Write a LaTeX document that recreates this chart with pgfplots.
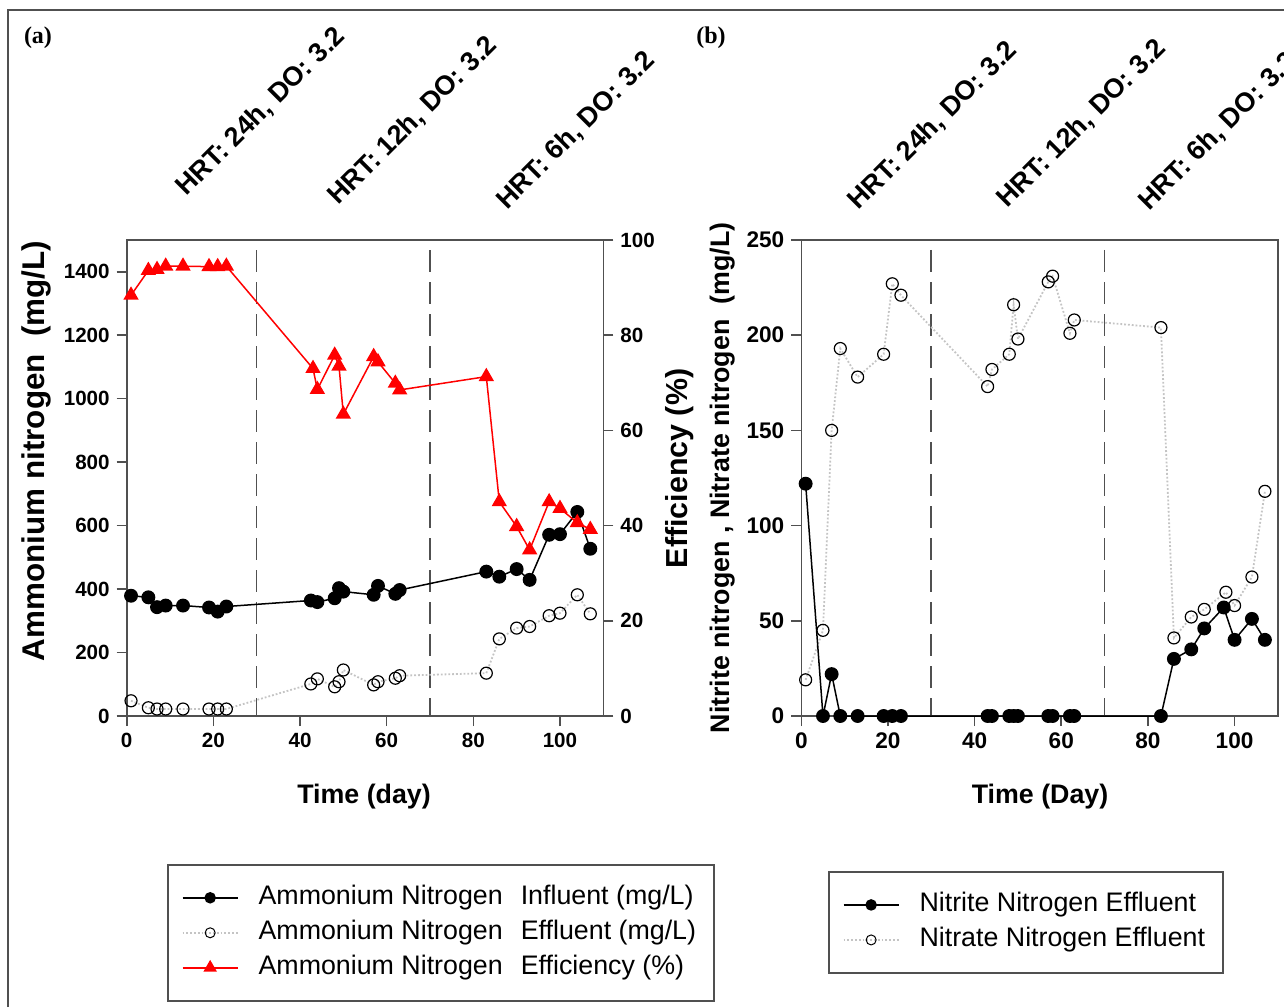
\documentclass[border=0pt]{standalone}
\usepackage{fontspec}
\setmainfont{Liberation Sans}
\newfontfamily\serifbf{Liberation Serif}
\usepackage{pgfplots}
\usepackage{pgfplotstable}
\pgfplotsset{compat=1.18}

\definecolor{axgray}{HTML}{505050}
\definecolor{dotgray}{HTML}{C4C4C4}

\pgfplotstableread{
day val
1 379
5 374
7 343
9 348
13 348
19 342
21 329
23 345
42.5 364
44 359
48 371
49 403
50 392
57 382
58 410
62 385
63 397
83 455
86 439
90 463
93 429
97.5 571
100 573
104 643
107 527
}\influent

\pgfplotstableread{
day val
1 48
5 26
7 22
9 22
13 22
19 22
21 22
23 22
42.5 101
44 117
48 92
49 108
50 145
57 98
58 108
62 119
63 127
83 135
86 243
90 277
93 282
97.5 316
100 324
104 382
107 322
}\effluent

\pgfplotstableread{
day val
1 88.4
5 93.6
7 93.8
9 94.5
13 94.5
19 94.4
21 94.4
23 94.5
43 73.0
44 68.6
48 75.8
49 73.5
50 63.4
57 75.5
58 74.4
62 69.9
63 68.5
83 71.3
86 45.0
90 39.8
93 34.9
97.5 45.0
100 43.6
104 40.6
107 39.2
}\efficiency

\pgfplotstableread{
day val
1 122
5 0
7 22
9 0
13 0
19 0
21 0
23 0
43 0
44 0
48 0
49 0
50 0
57 0
58 0
62 0
63 0
83 0
86 30
90 35
93 46
97.5 57
100 40
104 51
107 40
}\nitrite

\pgfplotstableread{
day val
1 19
5 45
7 150
9 193
13 178
19 190
21 227
23 221
43 173
44 182
48 190
49 216
50 198
57 228
58 231
62 201
63 208
83 204
86 41
90 52
93 56
98 65
100 58
104 73
107 118
}\nitrate

\pgfplotsset{
  myaxis/.style={
    scale only axis, width=238.3pt, height=238pt,
    xmin=0, xmax=110,
    axis line style={axgray, line width=0.8pt},
    tick style={axgray, line width=0.8pt},
    major tick length=5pt,
    tick align=outside,
    /pgf/number format/assume math mode=true,
    /pgf/number format/1000 sep={},
    ticklabel style={font=\fontsize{10.3}{12}\selectfont\bfseries, black},
    clip=false,
    legend image code/.code={\draw[mark repeat=2,mark phase=2,##1] plot coordinates {(0pt,0pt) (13.75pt,0pt) (27.5pt,0pt)};},
  },
  mylegend/.style={
    draw=axgray, line width=0.75pt, fill=white,
    font=\fontsize{13.4}{16}\selectfont,
    inner xsep=7pt, inner ysep=8pt, row sep=0.5pt,
    cells={anchor=west},
    nodes={text height=10pt, text depth=3pt},
    /tikz/every odd column/.append style={column sep=8pt},
  },
}

\begin{document}
\begin{tikzpicture}
\useasboundingbox (0,0) rectangle (642pt,503.5pt);
\clip (0,0) rectangle (642pt,503.5pt);
\draw[axgray, line width=1pt] (4pt,0) -- (4pt,498.5pt) -- (650pt,498.5pt);

\node[font=\serifbf\fontsize{12}{14}\selectfont\bfseries] at (19pt,484.5pt) {(a)};
\node[font=\serifbf\fontsize{12}{14}\selectfont\bfseries] at (355.5pt,484.5pt) {(b)};

\begin{scope}[every node/.style={rotate=45, font=\fontsize{13.5}{16}\selectfont\bfseries}]
\node at (130.5pt,447.5pt) {HRT: 24h, DO: 3.2};
\node at (206.5pt,443pt) {HRT: 12h, DO: 3.2};
\node at (288pt,438pt) {HRT: 6h, DO: 3.2};
\node at (466.5pt,440.5pt) {HRT: 24h, DO: 3.2};
\node at (541pt,441.5pt) {HRT: 12h, DO: 3.2};
\node at (609pt,437.5pt) {HRT: 6h, DO: 3.2};
\end{scope}

% ---------- panel (a), left axis ----------
\begin{axis}[myaxis,
  at={(63.35pt,145.5pt)}, anchor=south west,
  ymin=0, ymax=1500,
  ytick={0,200,...,1400}, xtick={0,20,...,100},
  xtick pos=left, ytick pos=left,
  xlabel={Time (day)},
  ylabel={Ammonium nitrogen\ \ (mg/L)},
  every axis x label/.style={at={(axis description cs:0.498,-0.170)}, anchor=center, font=\fontsize{13.4}{16}\selectfont\bfseries},
  every axis y label/.style={at={(axis description cs:-0.19,0.557)}, anchor=center, rotate=90, font=\fontsize{15.7}{18}\selectfont\bfseries},
  legend style={mylegend, at={(0.0846,-0.311)}, anchor=north west},
]
\addplot[forget plot, axgray, line width=0.8pt, dash pattern=on 11pt off 5pt, dash phase=11pt] coordinates {(30,1500) (30,0)};
\addplot[forget plot, axgray, line width=0.8pt, dash pattern=on 11pt off 5pt, dash phase=11pt] coordinates {(70,1500) (70,0)};
\addplot[forget plot, dotgray, line width=0.9pt, densely dotted, mark=o, mark size=3pt, mark options={black, solid, fill=white, line width=0.6pt}] table[x=day,y=val] {\effluent};
\addplot[forget plot, black, line width=0.75pt, mark=*, mark size=3.1pt] table[x=day,y=val] {\influent};
\addlegendimage{black, line width=0.75pt, mark=*, mark size=2.5pt}
\addlegendentry{Ammonium Nitrogen\hspace{9pt}Influent (mg/L)}
\addlegendimage{dotgray, line width=0.9pt, densely dotted, mark=o, mark size=2.5pt, mark options={black, solid, fill=white, line width=0.5pt}}
\addlegendentry{Ammonium Nitrogen\hspace{9pt}Effluent (mg/L)}
\addlegendimage{red, line width=0.75pt, mark=triangle*, mark size=3.2pt, mark options={red}}
\addlegendentry{Ammonium Nitrogen\hspace{9pt}Efficiency (\%)}
\end{axis}

% ---------- panel (a), right axis ----------
\begin{axis}[myaxis,
  at={(63.35pt,145.5pt)}, anchor=south west,
  ymin=0, ymax=100,
  ytick={0,20,...,100},
  axis y line*=right, axis x line=none,
  ytick pos=right,
  ylabel={Efficiency (\%)},
  every axis y label/.style={at={(axis description cs:1.16,0.52)}, anchor=center, rotate=90, font=\fontsize{15.2}{18}\selectfont\bfseries},
]
\addplot[red, line width=0.75pt, mark=triangle*, mark size=3.7pt, mark options={red}] table[x=day,y=val] {\efficiency};
\end{axis}

% ---------- panel (b) ----------
\begin{axis}[myaxis,
  at={(400.65pt,145.5pt)}, anchor=south west,
  ymin=0, ymax=250,
  ytick={0,50,...,250}, xtick={0,20,...,100},
  xtick pos=left, ytick pos=left,
  ticklabel style={font=\fontsize{11.3}{13}\selectfont\bfseries},
  xlabel={Time (Day)},
  ylabel={Nitrite nitrogen , Nitrate nitrogen\ \ (mg/L)},
  every axis x label/.style={at={(axis description cs:0.501,-0.170)}, anchor=center, font=\fontsize{13.4}{16}\selectfont\bfseries},
  every axis y label/.style={at={(axis description cs:-0.166,0.50)}, anchor=center, rotate=90, font=\fontsize{13.4}{16}\selectfont\bfseries},
  legend style={mylegend, at={(0.056,-0.326)}, anchor=north west},
]
\addplot[forget plot, axgray, line width=0.8pt, dash pattern=on 11pt off 5pt, dash phase=11pt] coordinates {(30,250) (30,0)};
\addplot[forget plot, axgray, line width=0.8pt, dash pattern=on 11pt off 5pt, dash phase=11pt] coordinates {(70,250) (70,0)};
\addplot[forget plot, dotgray, line width=0.9pt, densely dotted, mark=o, mark size=3pt, mark options={black, solid, fill=white, line width=0.6pt}] table[x=day,y=val] {\nitrate};
\addplot[forget plot, black, line width=0.75pt, mark=*, mark size=3.1pt] table[x=day,y=val] {\nitrite};
\addlegendimage{black, line width=0.75pt, mark=*, mark size=2.5pt}
\addlegendentry{Nitrite Nitrogen Effluent}
\addlegendimage{dotgray, line width=0.9pt, densely dotted, mark=o, mark size=2.5pt, mark options={black, solid, fill=white, line width=0.5pt}}
\addlegendentry{Nitrate Nitrogen Effluent}
\end{axis}
\end{tikzpicture}
\end{document}
